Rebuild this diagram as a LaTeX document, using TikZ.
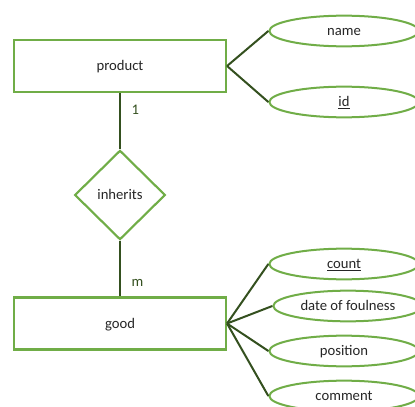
\documentclass[tikz,border=0pt]{standalone}
\usepackage{fontspec}
\setmainfont{Carlito}
\usetikzlibrary{shapes.geometric,%
                positioning}
\definecolor{lgreen}{HTML}{70AD47}
\definecolor{dgreen}{HTML}{34501F}

\tikzset{Entity/.style={draw=lgreen, line width=1.6pt, fill=white,
                        minimum width=159pt, minimum height=39pt},
         Relation/.style={diamond, draw=lgreen, line width=1.6pt, fill=white,
                          minimum width=68pt, minimum height=67pt, inner sep=0pt},
         Attr/.style={ellipse, draw=lgreen, line width=1.5pt, fill=white,
                      minimum width=112pt, minimum height=23pt, inner sep=0pt},
         Link/.style={draw=dgreen, line width=1.5pt},
         Card/.style={text=dgreen, inner sep=2pt}}

\begin{document}
\begin{tikzpicture}[x=0.75pt, y=-0.75pt]
  \tikzstyle{every node} = [font=\fontsize{11}{13}\selectfont,
                            text=black!85,
                            text height=9pt,
                            text depth=2pt]
\useasboundingbox (0,0) rectangle (415,407);
\clip (0,0) rectangle (415,407);

% entities and relation
\node[Entity] (A0) at (120,66) {product};
\node[Relation] (A1) at (120,195) {inherits};
\node[Entity] (A2) at (120,323.5) {good};

% attributes
\node[Attr] (A3) at (344,31) {name};
\node[Attr] (A4) at (344,102) {\underline{id}};
\node[Attr] (A5) at (344,264) {\underline{count}};
\node[Attr] (A6) at (348,306) {date of foulness};
\node[Attr] (A7) at (344,351) {position};
\node[Attr] (A8) at (344,396) {comment};

\path[Link] (A0.south) -- node[Card, pos=0.3, right=6pt] (C0) {1} (A1.north);
\path[Link] (A1.south) -- node[Card, pos=0.74, right=6pt] (C1) {m} (A2.north);

\path[Link] (A0.east) -- (A3.west);
\path[Link] (A0.east) -- (A4.west);
\path[Link] (A2.east) -- (A5.west);
\path[Link] (A2.east) -- (A6.west);
\path[Link] (A2.east) -- (A7.west);
\path[Link] (A2.east) -- (A8.west);

\end{tikzpicture}
\end{document}
